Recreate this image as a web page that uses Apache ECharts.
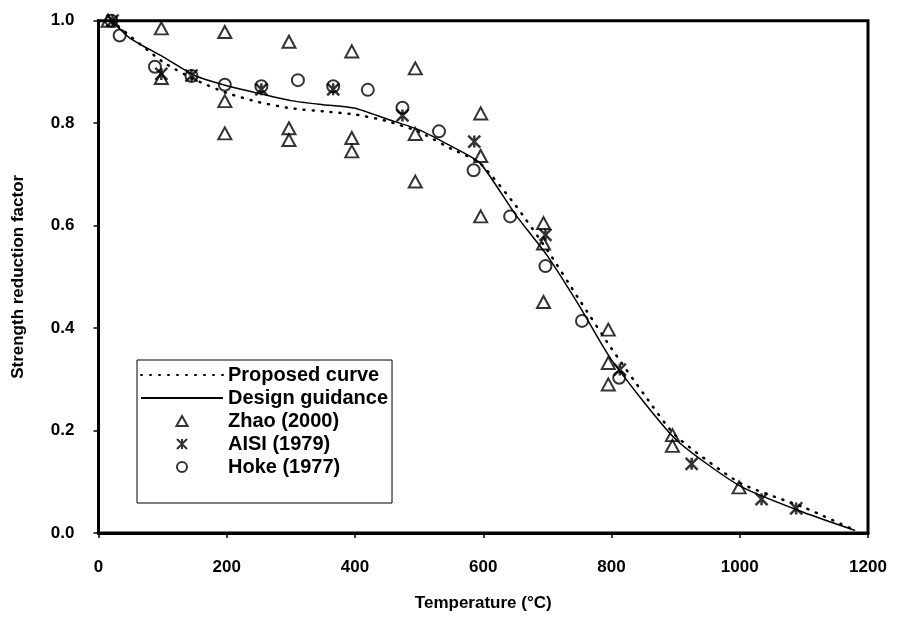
<!DOCTYPE html>
<html>
<head>
<meta charset="utf-8">
<script src="https://cdn.jsdelivr.net/npm/echarts@6/dist/echarts.min.js"></script>
<style>
  html, body { margin: 0; padding: 0; background: #fff; }
  #chart { width: 897px; height: 620px; }
</style>
</head>
<body>
<div id="chart"></div>
<script>
// curves
const propT = [20, 100, 150, 200, 250, 300, 350, 400, 450, 500, 550, 595, 650, 700, 750, 800, 850, 900, 1000, 1100, 1180]
const propV = [1.0, 0.92, 0.885, 0.859, 0.841, 0.829, 0.823, 0.817, 0.804, 0.783, 0.75, 0.722, 0.64, 0.552, 0.455, 0.36, 0.272, 0.19, 0.098, 0.05, 0.005]
const guideT = [20, 50, 100, 150, 200, 250, 300, 350, 400, 450, 500, 550, 595, 650, 700, 750, 800, 900, 1000, 1100, 1180]
const guideV = [1.0, 0.965, 0.93, 0.893, 0.873, 0.858, 0.844, 0.836, 0.829, 0.808, 0.787, 0.755, 0.722, 0.622, 0.541, 0.443, 0.338, 0.183, 0.092, 0.040, 0.005]

// test data
const zhaoT = [15, 98, 98, 197, 197, 197, 297, 297, 297, 395, 395, 395, 494, 494, 494, 596, 596, 596, 694, 694, 694, 795, 795, 795, 895, 895, 999]
const zhaoV = [1.0, 0.985, 0.888, 0.978, 0.843, 0.780, 0.959, 0.790, 0.767, 0.940, 0.771, 0.745, 0.907, 0.779, 0.686, 0.819, 0.736, 0.618, 0.605, 0.565, 0.451, 0.397, 0.332, 0.290, 0.191, 0.170, 0.089]
const aisiT = [22, 98, 145, 254, 366, 474, 586, 697, 813, 925, 1034, 1088]
const aisiV = [1.0, 0.896, 0.893, 0.866, 0.866, 0.815, 0.764, 0.582, 0.319, 0.135, 0.066, 0.048]
const hokeT = [20, 33, 88, 145, 197, 254, 311, 366, 420, 474, 531, 585, 642, 697, 754, 812]
const hokeV = [1.0, 0.971, 0.910, 0.892, 0.875, 0.872, 0.884, 0.872, 0.865, 0.830, 0.784, 0.708, 0.618, 0.521, 0.414, 0.303]

const xTicks = [0, 200, 400, 600, 800, 1000, 1200]
const yTicks = [0.0, 0.2, 0.4, 0.6, 0.8, 1.0]

const zip = (a, b) => a.map((v, i) => [v, b[i]])
const font = '"Liberation Sans", Arial, sans-serif'
const hollow = { color: 'rgba(0,0,0,0)', borderColor: '#000', borderWidth: 2 }
const triPath = 'path://M5,0L10,9L0,9Z'
const starPath = 'path://M0,0L10,10M10,0L0,10M5,0L5,10'

const chart = echarts.init(document.getElementById('chart'))
chart.setOption({
  animation: false,
  backgroundColor: '#fff',
  grid: {
    left: 98.5,
    right: 29,
    top: 20.7,
    bottom: 87,
    show: true,
    borderColor: '#000',
    borderWidth: 3,
    outerBoundsMode: 'none'
  },
  xAxis: {
    type: 'value',
    min: xTicks[0],
    max: xTicks[xTicks.length - 1],
    interval: 200,
    name: 'Temperature (°C)',
    nameLocation: 'middle',
    nameGap: 62,
    nameTextStyle: { color: '#000', fontSize: 17, fontWeight: 'bold', fontFamily: font },
    axisLine: { lineStyle: { color: '#000', width: 3 } },
    axisTick: { show: true, length: 5, lineStyle: { color: '#000', width: 1.5 } },
    axisLabel: {
      color: '#000', fontSize: 17, fontWeight: 'bold', fontFamily: font, margin: 26,
      formatter: v => String(v)
    },
    splitLine: { show: false }
  },
  yAxis: {
    type: 'value',
    min: yTicks[0],
    max: yTicks[yTicks.length - 1],
    interval: 0.2,
    name: 'Strength reduction factor',
    nameLocation: 'middle',
    nameGap: 72,
    nameTextStyle: { color: '#000', fontSize: 17, fontWeight: 'bold', fontFamily: font },
    axisLine: { lineStyle: { color: '#000', width: 3 } },
    axisTick: { show: true, length: 5, lineStyle: { color: '#000', width: 1.5 } },
    axisLabel: {
      color: '#000', fontSize: 17, fontWeight: 'bold', fontFamily: font, margin: 24,
      formatter: v => v.toFixed(1)
    },
    splitLine: { show: false }
  },
  legend: {
    orient: 'vertical',
    left: 137,
    top: 360,
    padding: [5, 4, 26, 3],
    itemWidth: 82,
    itemHeight: 10,
    itemGap: 3,
    borderColor: '#000',
    borderWidth: 1,
    backgroundColor: '#fff',
    textStyle: { color: '#000', fontSize: 20, fontWeight: 'bold', fontFamily: font },
    data: [
      { name: 'Proposed curve', itemStyle: { opacity: 0 } },
      { name: 'Design guidance', itemStyle: { opacity: 0 } },
      { name: 'Zhao (2000)', icon: triPath },
      { name: 'AISI (1979)', icon: starPath },
      { name: 'Hoke (1977)', icon: 'circle' }
    ]
  },
  series: [
    {
      name: 'Proposed curve',
      type: 'line',
      smooth: 0.2,
      symbol: 'none',
      data: zip(propT, propV),
      lineStyle: { color: '#000', width: 2.5, type: [1, 8], cap: 'round' },
      itemStyle: { color: '#000' },
      z: 2
    },
    {
      name: 'Design guidance',
      type: 'line',
      smooth: 0.2,
      symbol: 'none',
      data: zip(guideT, guideV),
      lineStyle: { color: '#000', width: 1.5 },
      itemStyle: { color: '#000' },
      z: 2
    },
    {
      name: 'Zhao (2000)',
      type: 'scatter',
      symbol: triPath,
      symbolSize: [13, 12],
      data: zip(zhaoT, zhaoV),
      itemStyle: hollow,
      z: 3
    },
    {
      name: 'AISI (1979)',
      type: 'scatter',
      symbol: starPath,
      symbolSize: 12,
      data: zip(aisiT, aisiV),
      itemStyle: { color: 'rgba(0,0,0,0)', borderColor: '#000', borderWidth: 2.5 },
      z: 3
    },
    {
      name: 'Hoke (1977)',
      type: 'scatter',
      symbol: 'circle',
      symbolSize: 12,
      data: zip(hokeT, hokeV),
      itemStyle: hollow,
      z: 3
    }
  ]
})
</script>
</body>
</html>
